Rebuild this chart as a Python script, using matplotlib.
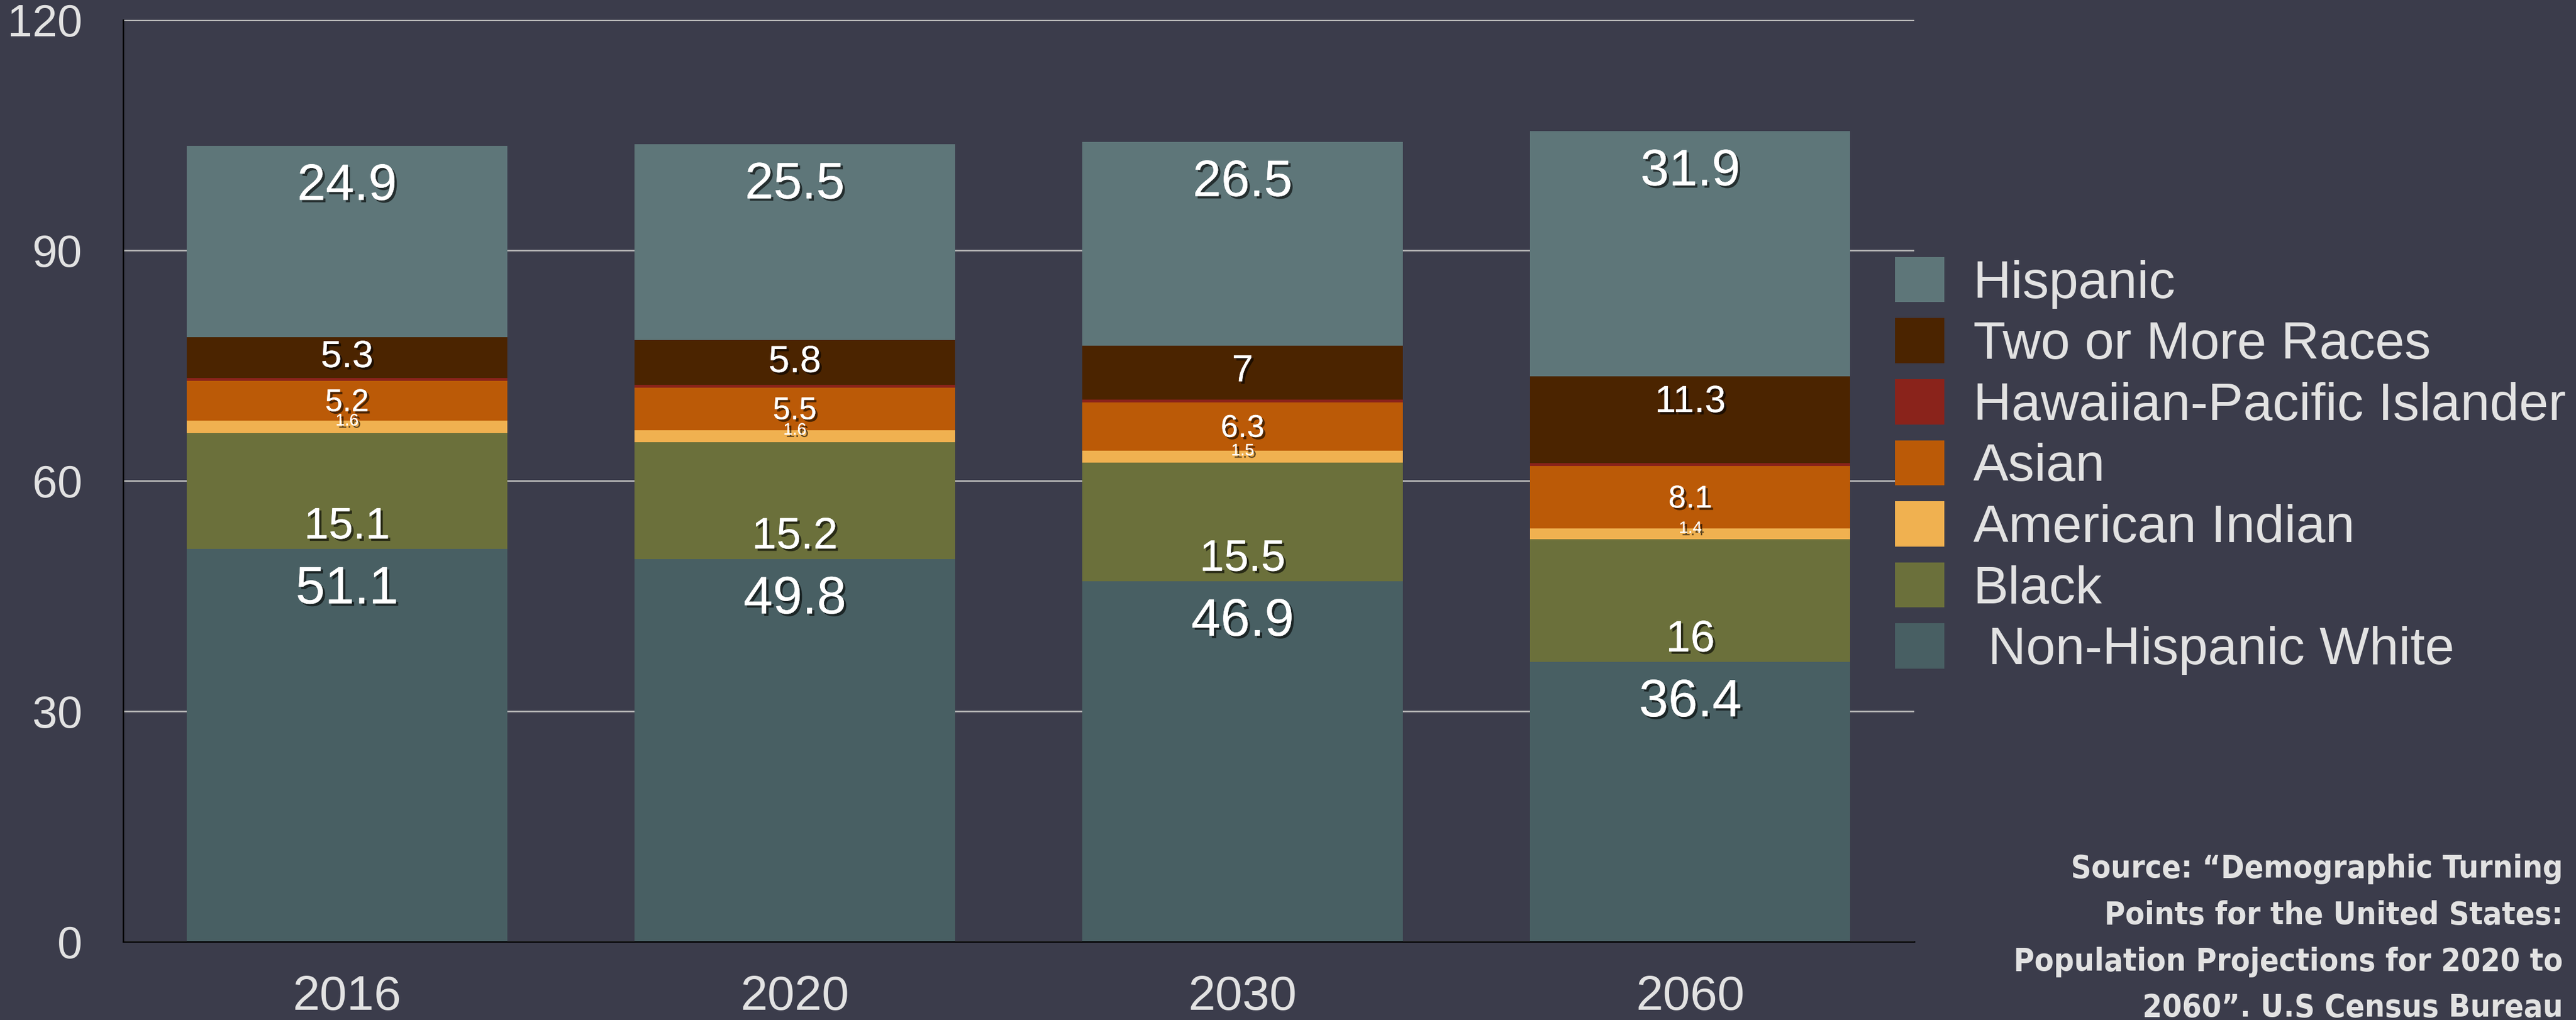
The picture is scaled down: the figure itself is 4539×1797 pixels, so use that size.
import matplotlib.pyplot as plt
import matplotlib.patheffects as pe
import numpy as np

plt.rcParams['font.family'] = ['Liberation Sans', 'DejaVu Sans']

years = ['2016', '2020', '2030', '2060']
white = [51.1, 49.8, 46.9, 36.4]
black = [15.1, 15.2, 15.5, 16]
am_indian = [1.6, 1.6, 1.5, 1.4]
asian = [5.2, 5.5, 6.3, 8.1]
hawaiian = [0.4, 0.4, 0.4, 0.4]
two_more = [5.3, 5.8, 7, 11.3]
hispanic = [24.9, 25.5, 26.5, 31.9]

names = ['Non-Hispanic White', 'Black', 'American Indian', 'Asian',
         'Hawaiian-Pacific Islander', 'Two or More Races', 'Hispanic']
legend_names = [' Non-Hispanic White', 'Black', 'American Indian', 'Asian',
                'Hawaiian-Pacific Islander', 'Two or More Races', 'Hispanic']
series = [white, black, am_indian, asian, hawaiian, two_more, hispanic]
colors = ['#485f63', '#6b703b', '#f0b150', '#bb5a07', '#8a231b', '#4b2400', '#5e7679']

bg = '#3b3c4b'
txt = '#e2e2e2'

fig = plt.figure(figsize=(45.39, 17.97), dpi=100, facecolor=bg)
ax = fig.add_axes([0.0478, 0.0768, 0.6953, 0.9037])
ax.set_facecolor(bg)

x = np.arange(len(years))
bottom = np.zeros(len(years))
handles = []
shadow = [pe.withSimplePatchShadow(offset=(3, -3), shadow_rgbFace='black', alpha=0.6), pe.Normal()]
for name, vals, c in zip(names, series, colors):
    vals = np.array(vals, dtype=float)
    b = ax.bar(x, vals, 0.715, bottom=bottom, color=c, zorder=3)
    handles.append(b)
    top = bottom + vals
    for i, v in enumerate(vals):
        if name == 'Hawaiian-Pacific Islander':
            continue
        if name == 'Non-Hispanic White':
            y, fs = top[i] - 5.3, 67
        elif name == 'Black':
            y, fs = bottom[i] + 2.9, 56
        elif name == 'American Indian':
            y, fs = top[i], 21
        elif name == 'Asian':
            y, fs = bottom[i] + v / 2 - 0.3, 40
        elif name == 'Two or More Races':
            y, fs = top[i] - min(v / 2, 3.4), 48
        else:
            y, fs = top[i] - 5.3, 65
        ax.text(x[i], y, f'{v:g}', ha='center', va='center', fontsize=fs,
                color='white', zorder=5, path_effects=shadow)
    bottom = top

ax.set_xlim(-0.5, 3.5)
ax.set_ylim(0, 120)
ax.set_yticks([0, 30, 60, 90, 120])
ax.set_xticks(x)
ax.set_xticklabels(years)
ax.tick_params(axis='y', length=0, pad=52, labelsize=57, labelcolor=txt)
ax.tick_params(axis='x', length=0, pad=42, labelsize=62, labelcolor=txt)
ax.grid(axis='y', color='#b8b8b8', lw=2, zorder=0)
ax.set_axisbelow(True)
for s in ['top', 'right']:
    ax.spines[s].set_visible(False)
for s in ['left', 'bottom']:
    ax.spines[s].set_color('black')
    ax.spines[s].set_linewidth(1.8)
    ax.spines[s].set_zorder(4)

leg = fig.legend(handles[::-1], legend_names[::-1], loc='upper left',
                 bbox_to_anchor=(0.7356, 0.748), frameon=False, fontsize=67,
                 handlelength=0.94, handleheight=0.94, handletextpad=0.54,
                 labelspacing=0.18, borderpad=0, borderaxespad=0)
for t in leg.get_texts():
    t.set_color(txt)

source = ('Source: \u201cDemographic Turning\nPoints for the United States:\n'
          'Population Projections for 2020 to\n2060\u201d. U.S Census Bureau')
fig.text(0.995, 0.163, source, ha='right', va='top', multialignment='right',
         fontsize=40, fontweight='bold', fontstretch='condensed', color=txt,
         linespacing=1.66, family=['DejaVu Sans'])

fig.savefig('out.png', dpi=100, facecolor=bg)
